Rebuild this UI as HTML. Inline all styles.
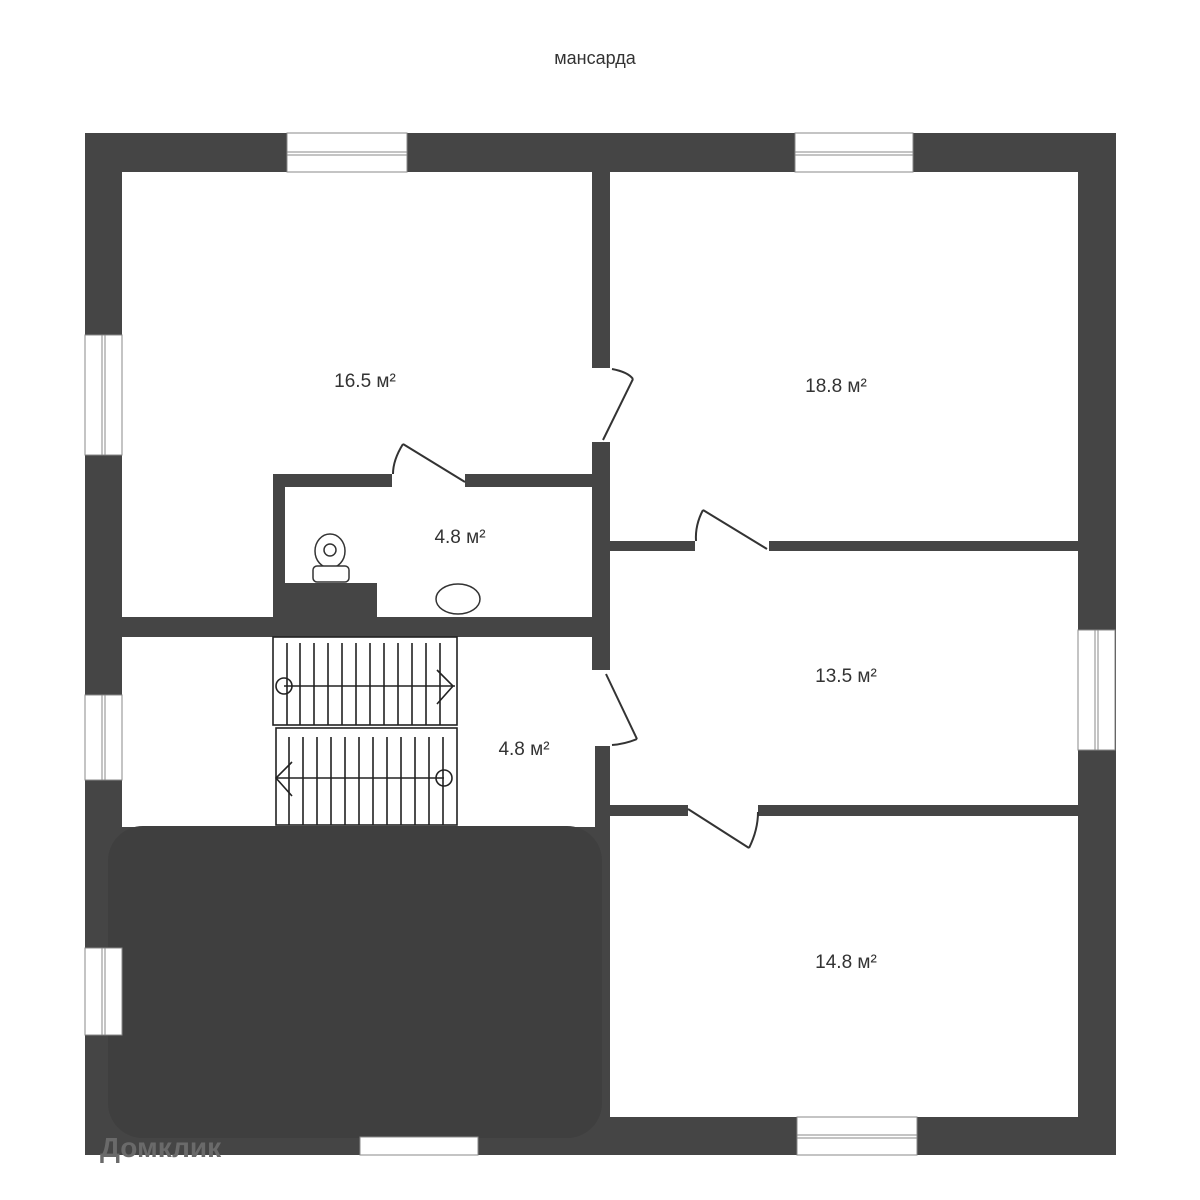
<!DOCTYPE html>
<html><head><meta charset="utf-8"><style>
html,body{margin:0;padding:0;background:#fff;}
svg{display:block}
text{font-family:"Liberation Sans",sans-serif;fill:#333}
</style></head><body>
<svg width="1200" height="1200" viewBox="0 0 1200 1200" xmlns="http://www.w3.org/2000/svg">
<rect width="1200" height="1200" fill="#fff"/>
<text x="595" y="64" font-size="18" text-anchor="middle">мансарда</text>
<!-- outer walls -->
<rect x="85" y="133" width="1031" height="1022" fill="#454545"/>
<!-- rooms white -->
<rect x="122" y="172" width="470" height="445" fill="#fff"/>
<rect x="122" y="637" width="473" height="190" fill="#fff"/>
<rect x="610" y="172" width="468" height="369" fill="#fff"/>
<rect x="610" y="551" width="468" height="254" fill="#fff"/>
<rect x="610" y="816" width="468" height="301" fill="#fff"/>
<rect x="592" y="368" width="20" height="74" fill="#fff"/>
<rect x="592" y="670" width="20" height="76" fill="#fff"/>
<rect x="695" y="538" width="74" height="15" fill="#fff"/>
<rect x="688" y="803" width="70" height="15" fill="#fff"/>
<!-- central lower wall segment -->
<rect x="592" y="442" width="18" height="228" fill="#454545"/>
<!-- bathroom -->
<rect x="273" y="474" width="320" height="13" fill="#454545"/>
<rect x="392" y="472" width="73" height="17" fill="#fff"/>
<rect x="273" y="474" width="12" height="150" fill="#454545"/>
<rect x="273" y="583" width="104" height="40" fill="#454545"/>
<rect x="122" y="617" width="473" height="20" fill="#454545"/>
<!-- big dark block -->
<rect x="108" y="826" width="494" height="312" rx="35" fill="#3f3f3f"/>
<!-- doors -->
<g stroke="#333" stroke-width="2" fill="none">
<line x1="403" y1="444" x2="465" y2="482"/><path d="M403 444 Q393 460 393 474"/>
<line x1="633" y1="379" x2="603" y2="440"/><path d="M612 369 Q628 372 633 379"/>
<line x1="703" y1="510" x2="767" y2="549"/><path d="M703 510 Q695 525 696 541"/>
<line x1="606" y1="674" x2="637" y2="739"/><path d="M637 739 Q625 744 612 745"/>
<line x1="688" y1="809" x2="749" y2="848"/><path d="M749 848 Q758 830 758 812"/>
</g>
<!-- stairs -->
<g stroke="#222" stroke-width="1.6" fill="#fff">
<rect x="273" y="637" width="184" height="88"/>
<rect x="276" y="728" width="181" height="97"/>
</g>
<g stroke="#222" stroke-width="1.6">
<path d="M287 643V725M300 643V725M314 643V725M328 643V725M342 643V725M356 643V725M370 643V725M384 643V725M398 643V725M412 643V725M426 643V725M440 643V725"/>
<path d="M289 737V825M303 737V825M317 737V825M331 737V825M345 737V825M359 737V825M373 737V825M387 737V825M401 737V825M415 737V825M429 737V825M443 737V825"/>
<line x1="284" y1="686" x2="455" y2="686"/>
<line x1="276" y1="778" x2="444" y2="778"/>
<path d="M437 670L453 686L437 704" fill="none"/>
<path d="M292 762L276 778L292 796" fill="none"/>
<circle cx="284" cy="686" r="8" fill="none"/>
<circle cx="444" cy="778" r="8" fill="none"/>
</g>
<!-- toilet & sink -->
<g stroke="#333" stroke-width="1.5" fill="#fff">
<ellipse cx="330" cy="551" rx="15" ry="17"/>
<circle cx="330" cy="550" r="6"/>
<rect x="313" y="566" width="36" height="16" rx="4"/>
<ellipse cx="458" cy="599" rx="22" ry="15"/>
</g>
<!-- windows -->
<g fill="#fff" stroke="#888" stroke-width="1">
<rect x="287" y="133" width="120" height="39"/><line x1="287" y1="152" x2="407" y2="152"/><line x1="287" y1="155" x2="407" y2="155"/>
<rect x="795" y="133" width="118" height="39"/><line x1="795" y1="152" x2="913" y2="152"/><line x1="795" y1="155" x2="913" y2="155"/>
<rect x="360" y="1137" width="118" height="18"/>
<rect x="797" y="1117" width="120" height="38"/><line x1="797" y1="1135" x2="917" y2="1135"/><line x1="797" y1="1138" x2="917" y2="1138"/>
<rect x="85" y="335" width="37" height="120"/><line x1="102" y1="335" x2="102" y2="455"/><line x1="105" y1="335" x2="105" y2="455"/>
<rect x="85" y="695" width="37" height="85"/><line x1="102" y1="695" x2="102" y2="780"/><line x1="105" y1="695" x2="105" y2="780"/>
<rect x="85" y="948" width="37" height="87"/><line x1="102" y1="948" x2="102" y2="1035"/><line x1="105" y1="948" x2="105" y2="1035"/>
<rect x="1078" y="630" width="37" height="120"/><line x1="1095" y1="630" x2="1095" y2="750"/><line x1="1098" y1="630" x2="1098" y2="750"/>
</g>
<!-- labels -->
<g font-size="19" text-anchor="middle">
<text x="365" y="387">16.5 м²</text>
<text x="836" y="392">18.8 м²</text>
<text x="460" y="543">4.8 м²</text>
<text x="846" y="682">13.5 м²</text>
<text x="524" y="755">4.8 м²</text>
<text x="846" y="968">14.8 м²</text>
</g>
<text x="100" y="1157" font-size="28" font-weight="bold" fill="#6a6a6a" style="fill:#6a6a6a">Домклик</text>
</svg>
</body></html>
